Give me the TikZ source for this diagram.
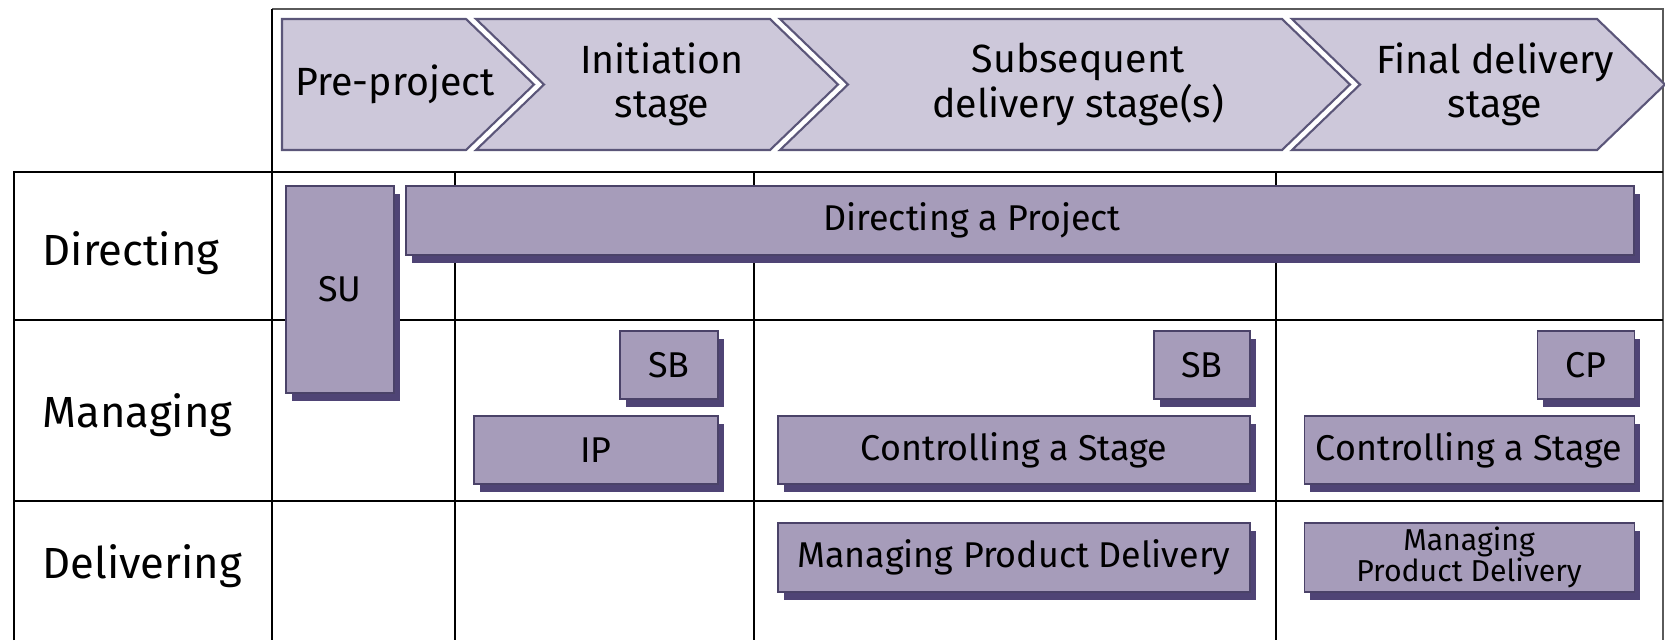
\documentclass[tikz,border=0pt]{standalone}
\usepackage{fontspec}
\setmainfont{Fira Sans}
\usetikzlibrary{shadows}

\definecolor{stagefill}{HTML}{CDC8DA}
\definecolor{stageline}{HTML}{5B5679}
\definecolor{procfill}{HTML}{A69CBA}
\definecolor{procshade}{HTML}{4F4475}
\definecolor{procline}{HTML}{4A4268}
\definecolor{framegray}{HTML}{5A5A5A}

\tikzset{
  stage/.style={fill=stagefill, draw=stageline, line width=0.6pt},
  stagetext/.style={align=center, inner sep=0pt, font=\fontsize{11.2}{12.6}\selectfont},
  procbox/.style={fill=procfill, draw=procline, line width=0.3pt, inner sep=0pt,
    align=center, font=\fontsize{10.2}{10.8}\selectfont,
    general shadow={fill=procshade, shadow xshift=0.6mm, shadow yshift=-0.8mm}},
  boxtext/.style={inner sep=0pt, font=\fontsize{10.2}{10.8}\selectfont},
  rowlabel/.style={anchor=base west, inner sep=0pt, font=\fontsize{12.4}{14}\selectfont},
  gridline/.style={line width=0.6pt},
}

\begin{document}
\begin{tikzpicture}[x=0.1mm, y=-0.1mm]
  \useasboundingbox (0,0) rectangle (1665,640);

  % frame round the stages
  \draw[framegray, line width=0.6pt] (272,9) -- (1663,9) -- (1663,640);
  \draw[gridline] (272,9) -- (272,640);

  % table
  \draw[gridline] (14,640) -- (14,172) -- (1663,172);
  \draw[gridline] (14,320) -- (1663,320);
  \draw[gridline] (14,501) -- (1663,501);
  \foreach \x in {455,754,1276}
    \draw[gridline] (\x,172) -- (\x,640);

  % stages
  \draw[stage] (282,19) -- (466,19) -- (534,84.5) -- (466,150) -- (282,150) -- cycle;
  \node[stagetext] (pre) at (395,84.5) {Pre-project};
  \draw[stage] (476,19) -- (770,19) -- (838,84.5) -- (770,150) -- (476,150) -- (544,84.5) -- cycle;
  \node[stagetext] (init) at (662,84.5) {Initiation\\stage};
  \draw[stage] (780,19) -- (1282,19) -- (1350,84.5) -- (1282,150) -- (780,150) -- (848,84.5) -- cycle;
  \node[stagetext] (subs) at (1078,84.5) {Subsequent\\delivery stage(s)};
  \draw[stage] (1292,19) -- (1597,19) -- (1665,84.5) -- (1597,150) -- (1292,150) -- (1360,84.5) -- cycle;
  \node[stagetext] (final) at (1495,84.5) {Final delivery\\stage};

  % levels
  \node[rowlabel] (dirlab) at (42,265) {Directing};
  \node[rowlabel] (manlab) at (42,427) {Managing};
  \node[rowlabel] (dellab) at (42,578) {Delivering};

  % processes
  \node[procbox, minimum width=10.8mm, minimum height=20.7mm] (su) at (340,289.5) {SU};
  \node[procbox, minimum width=122.8mm, minimum height=6.9mm] (dp) at (1020,220.5) {};
  \node[boxtext] (dplab) at (972,220.5) {Directing a Project};
  \node[procbox, minimum width=9.8mm, minimum height=6.8mm] (sb1) at (669,365) {SB};
  \node[procbox, minimum width=24.4mm, minimum height=6.8mm] (ip) at (596,450) {IP};
  \node[procbox, minimum width=9.6mm, minimum height=6.8mm] (sb2) at (1202,365) {SB};
  \node[procbox, minimum width=47.2mm, minimum height=6.8mm] (cs1) at (1014,450) {Controlling a Stage};
  \node[procbox, minimum width=9.7mm, minimum height=6.8mm] (cp) at (1585.5,365) {CP};
  \node[procbox, minimum width=33mm, minimum height=6.8mm] (cs2) at (1469,450) {Controlling a Stage};
  \node[procbox, minimum width=47.2mm, minimum height=6.9mm] (mpd1) at (1014,557.5) {Managing Product Delivery};
  \node[procbox, minimum width=33mm, minimum height=6.9mm, font=\fontsize{8.6}{9}\selectfont] (mpd2) at (1469,557.5) {Managing\\Product Delivery};
\end{tikzpicture}
\end{document}
